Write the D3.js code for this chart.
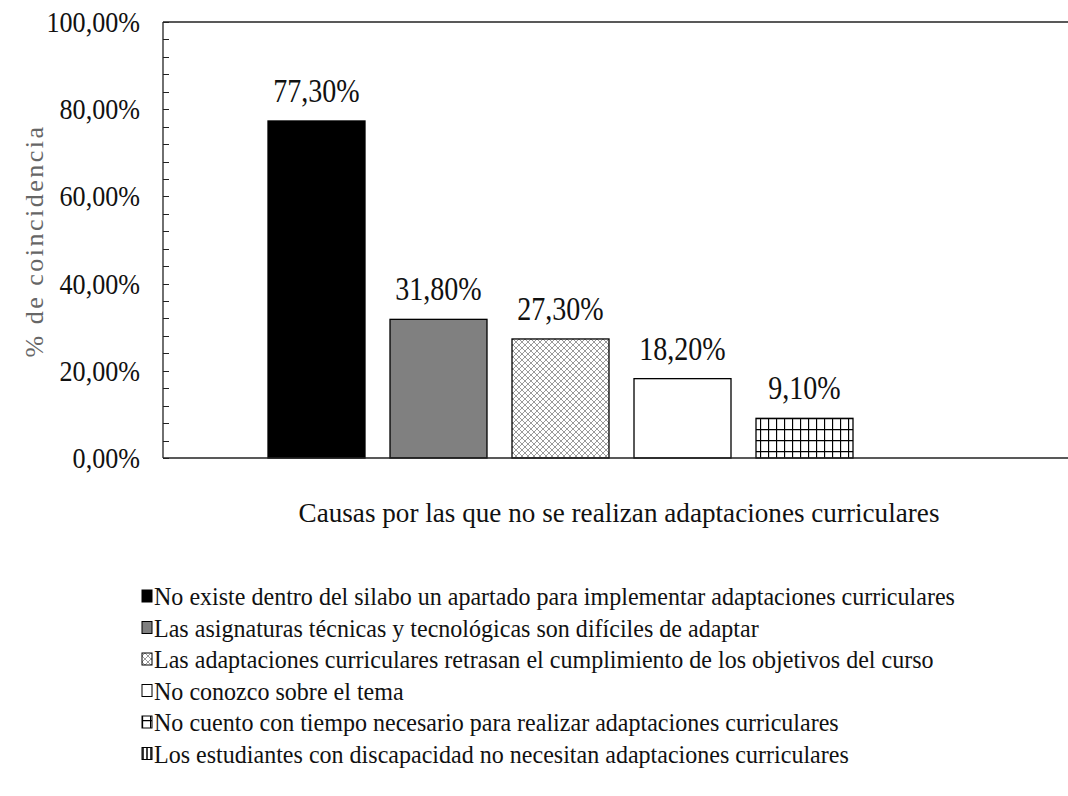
<!DOCTYPE html>
<html>
<head>
<meta charset="utf-8">
<script src="https://cdn.jsdelivr.net/npm/d3@7"></script>
<style>
  body { margin: 0; background: #fff; }
  text { font-family: "Liberation Serif", "Times New Roman", Tinos, serif; }
</style>
</head>
<body>
<svg id="chart" width="1068" height="796"></svg>
<script>
// data
var categories = [
    "No existe dentro del silabo un apartado para implementar adaptaciones curriculares",
    "Las asignaturas técnicas y tecnológicas son difíciles de adaptar",
    "Las adaptaciones curriculares retrasan el cumplimiento de los objetivos del curso",
    "No conozco sobre el tema",
    "No cuento con tiempo necesario para realizar adaptaciones curriculares",
    "Los estudiantes con discapacidad no necesitan adaptaciones curriculares"
];
var values = [77.3, 31.8, 27.3, 18.2, 9.1, 0];
var yTicks = [0, 20, 40, 60, 80, 100];
var fills = ["#000", "#808080", "url(#pDots)", "#fff", "url(#pGrid)", "url(#pVert)"];

var svg = d3.select("#chart");
var defs = svg.append("defs");

// patterns
var pd = defs.append("pattern").attr("id", "pDots").attr("patternUnits", "userSpaceOnUse")
    .attr("width", 6).attr("height", 6);
pd.append("rect").attr("width", 6).attr("height", 6).attr("fill", "#fff");
pd.append("path").attr("d", "M0,0L6,6M6,0L0,6").attr("stroke", "#9a9a9a").attr("stroke-width", 1);

var pg = defs.append("pattern").attr("id", "pGrid").attr("patternUnits", "userSpaceOnUse")
    .attr("width", 8).attr("height", 11);
pg.append("rect").attr("width", 8).attr("height", 11).attr("fill", "#fff");
pg.append("path").attr("d", "M0.5,0V11M0,0.5H8").attr("stroke", "#000").attr("stroke-width", 1.3);

var pv = defs.append("pattern").attr("id", "pVert").attr("patternUnits", "userSpaceOnUse")
    .attr("width", 4).attr("height", 4);
pv.append("rect").attr("width", 4).attr("height", 4).attr("fill", "#fff");
pv.append("path").attr("d", "M1,0V4").attr("stroke", "#000").attr("stroke-width", 1.5);

var pLeft = 163, pRight = 1068, pTop = 22, pBottom = 458;

var y = d3.scaleLinear().domain([0, 100]).range([pBottom, pTop]);
var x = d3.scaleBand().domain(categories).range([255.5, 987.5])
    .paddingInner(0.205).paddingOuter(0.1025);

function pct(d) { return d3.format(".2f")(d).replace(".", ",") + "%"; }

// top frame line
svg.append("line").attr("x1", pLeft).attr("x2", pRight).attr("y1", pTop).attr("y2", pTop)
    .attr("stroke", "#222").attr("stroke-width", 1.3);

// y axis, ticks inside
var minor = d3.range(0, 101, 4);
svg.append("g").selectAll("line").data(minor).join("line")
    .attr("x1", pLeft).attr("x2", pLeft + 6)
    .attr("y1", function(d) { return Math.round(y(d)) + 0.5; })
    .attr("y2", function(d) { return Math.round(y(d)) + 0.5; })
    .attr("stroke", "#222").attr("stroke-width", 1);
svg.append("line").attr("x1", pLeft).attr("x2", pLeft).attr("y1", pTop).attr("y2", pBottom)
    .attr("stroke", "#222").attr("stroke-width", 1.3);

// narrow serif look of the original: scale text horizontally
svg.append("g").selectAll("text").data(yTicks).join("text")
    .attr("transform", function(d) { return "translate(140," + (y(d) + 10) + ") scale(0.87,1)"; })
    .attr("text-anchor", "end").attr("font-size", 30).attr("fill", "#111")
    .text(pct);

svg.append("text")
    .attr("transform", "translate(43,241) rotate(-90)")
    .attr("text-anchor", "middle").attr("font-size", 26).attr("fill", "#666")
    .style("letter-spacing", "2.5px")
    .text("% de coincidencia");

// bars
svg.append("g").selectAll("rect").data(values).join("rect")
    .attr("x", function(d, i) { return x(categories[i]); })
    .attr("y", function(d) { return y(d); })
    .attr("width", x.bandwidth())
    .attr("height", function(d) { return pBottom - y(d); })
    .attr("fill", function(d, i) { return fills[i]; })
    .attr("stroke", "#000").attr("stroke-width", 1.3)
    .attr("visibility", function(d) { return d > 0 ? "visible" : "hidden"; });

svg.append("g").selectAll("text").data(values.filter(function(d) { return d > 0; })).join("text")
    .attr("transform", function(d, i) {
        return "translate(" + (x(categories[i]) + x.bandwidth() / 2) + "," + (y(d) - 19) + ") scale(0.85,1)";
    })
    .attr("text-anchor", "middle").attr("font-size", 33).attr("fill", "#111")
    .text(pct);

// baseline
svg.append("line").attr("x1", pLeft).attr("x2", pRight).attr("y1", pBottom).attr("y2", pBottom)
    .attr("stroke", "#222").attr("stroke-width", 1.5);

// x title
svg.append("text").attr("transform", "translate(619,522) scale(0.97,1)")
    .attr("text-anchor", "middle").attr("font-size", 28).attr("fill", "#111")
    .text("Causas por las que no se realizan adaptaciones curriculares");

// legend
var lg = svg.append("g").selectAll("g").data(categories).join("g")
    .attr("transform", function(d, i) { return "translate(142," + (605 + i * 31.5) + ")"; });
lg.append("rect").attr("x", 0).attr("y", -15).attr("width", 10).attr("height", 12)
    .attr("fill", function(d, i) { return fills[i]; })
    .attr("stroke", "#000").attr("stroke-width", 1);
lg.append("text").attr("transform", "translate(12,0) scale(0.925,1)")
    .attr("font-size", 26).attr("fill", "#111")
    .text(function(d) { return d; });
</script>
</body>
</html>
